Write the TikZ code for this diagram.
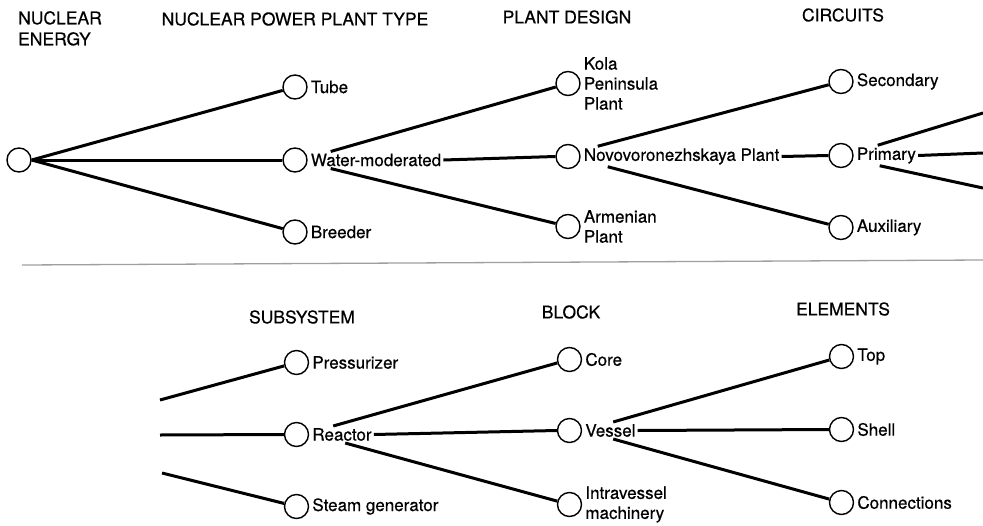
\documentclass[tikz,border=0pt]{standalone}
\usepackage{fontspec}
\setmainfont{TeX Gyre Heros}[FakeBold=0.5]
\usetikzlibrary{positioning}

\begin{document}
\begin{tikzpicture}[
      x=1pt, y=-1pt,
      node distance=73pt and 273pt,
      pt/.style={circle, draw, line width=1.4pt, inner sep=0pt, minimum size=24pt, on grid},
      lbl/.style={inner sep=2pt, align=left, font=\fontsize{17}{20}\selectfont},
      hdr/.style={inner sep=0pt, align=left, font=\fontsize{17.5}{21}\selectfont},
      link/.style={line width=3pt}
    ]
    \useasboundingbox (0,0) rectangle (983,525);

    % headers
    \node[hdr, anchor=north west] (hEnergy) at (18,11) {NUCLEAR\\ENERGY};
    \node[hdr] (hType) at (295,19) {NUCLEAR POWER PLANT TYPE};
    \node[hdr] (hDesign) at (567,17) {PLANT DESIGN};
    \node[hdr] (hCircuit) at (843,15) {CIRCUITS};
    \node[hdr] (hSub) at (302,317) {SUBSYSTEM};
    \node[hdr] (hBlock) at (571,312) {BLOCK};
    \node[hdr] (hElem) at (843,309) {ELEMENTS};

    % upper tree
    \node[pt] (root) at (19,160) {};
    \node[pt, right=276pt of root] (wm) {};
    \node[pt, above=of wm] (tube) {};
    \node[pt, below=72pt of wm] (breeder) {};
    \node[pt, right=of wm, yshift=3.5pt] (novo) {};
    \node[pt, above=of novo] (kola) {};
    \node[pt, below=70pt of novo] (armenian) {};
    \node[pt, right=of novo, yshift=1pt] (primary) {};
    \node[pt, above=74pt of primary] (secondary) {};
    \node[pt, below=72pt of primary] (auxiliary) {};

    \node[lbl, right=1pt of tube] (tubeT) {Tube};
    \node[lbl, right=1pt of wm] (wmT) {Water-moderated};
    \node[lbl, right=1pt of breeder] (breederT) {Breeder};
    \node[lbl, right=1pt of kola] (kolaT) {Kola\\Peninsula\\Plant};
    \node[lbl, right=1pt of novo] (novoT) {Novovoronezhskaya Plant};
    \node[lbl, right=1pt of armenian] (armenianT) {Armenian\\Plant};
    \node[lbl, right=1pt of secondary] (secondaryT) {Secondary};
    \node[lbl, right=1pt of primary] (primaryT) {Primary};
    \node[lbl, right=1pt of auxiliary] (auxiliaryT) {Auxiliary};

    \coordinate (primUp) at (983,113);
    \coordinate (primMid) at (983,153);
    \coordinate (primLow) at (983,188);

    \draw[link] (root.east) -- (tube);
    \draw[link] (root.east) -- (wm.west);
    \draw[link] (root.east) -- (breeder);
    \draw[link] ([xshift=22pt]wmT.north west) -- (kola);
    \draw[link] (wmT.east) -- (novo.west);
    \draw[link] ([xshift=22pt]wmT.south west) -- (armenian);
    \draw[link] ([xshift=16pt]novoT.north west) -- (secondary);
    \draw[link] (novoT.east) -- (primary.west);
    \draw[link] ([xshift=26pt]novoT.south west) -- (auxiliary);
    \draw[link] ([xshift=23pt]primaryT.north west) -- (primUp);
    \draw[link] (primaryT.east) -- (primMid);
    \draw[link] ([xshift=25pt]primaryT.south west) -- (primLow);

    % separator
    \draw[gray!75, line width=1.3pt] (22,265) -- (983,260);

    % lower tree
    \node[pt] (reactor) at (296.5,434.5) {};
    \node[pt, above=72pt of reactor] (press) {};
    \node[pt, below=72pt of reactor] (steam) {};
    \node[pt, right=of reactor, yshift=4pt] (vessel) {};
    \node[pt, above=71pt of vessel] (core) {};
    \node[pt, below=74pt of vessel] (intra) {};
    \node[pt, right=272pt of vessel, yshift=1pt] (shell) {};
    \node[pt, above=of shell] (top) {};
    \node[pt, below=of shell] (conn) {};

    \node[lbl, right=1pt of press] (pressT) {Pressurizer};
    \node[lbl, right=1pt of reactor] (reactorT) {Reactor};
    \node[lbl, right=1pt of steam] (steamT) {Steam generator};
    \node[lbl, right=1pt of core] (coreT) {Core};
    \node[lbl, right=1pt of vessel] (vesselT) {Vessel};
    \node[lbl, right=1pt of intra] (intraT) {Intravessel\\machinery};
    \node[lbl, right=1pt of top] (topT) {Top};
    \node[lbl, right=1pt of shell] (shellT) {Shell};
    \node[lbl, right=1pt of conn] (connT) {Connections};

    \coordinate (subUp) at (160,400);
    \coordinate (subMid) at (160,435);
    \coordinate (subLow) at (162,473);

    \draw[link] (subUp) -- (press);
    \draw[link] (subMid) -- (reactor.west);
    \draw[link] (subLow) -- (steam);
    \draw[link] ([xshift=23pt]reactorT.north west) -- (core);
    \draw[link] (reactorT.east) -- (vessel.west);
    \draw[link] ([xshift=35pt]reactorT.south west) -- (intra);
    \draw[link] ([xshift=30pt]vesselT.north west) -- (top);
    \draw[link] (vesselT.east) -- (shell.west);
    \draw[link] ([xshift=30pt]vesselT.south west) -- (conn);
  \end{tikzpicture}
\end{document}
